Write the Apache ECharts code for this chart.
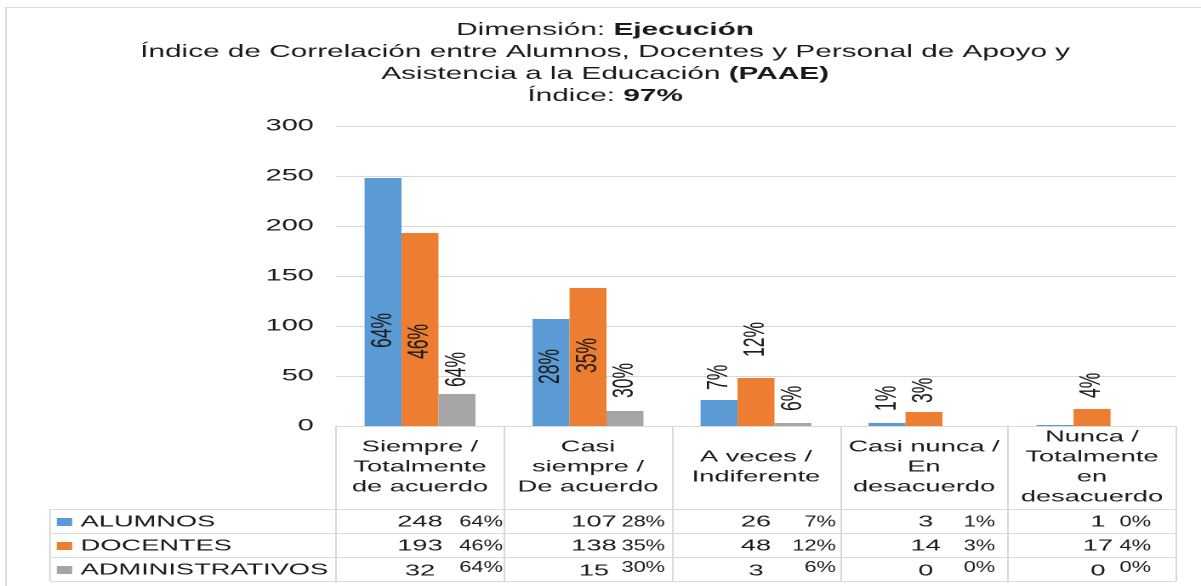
<!DOCTYPE html>
<html>
<head>
<meta charset="utf-8">
<script src="https://cdn.jsdelivr.net/npm/echarts@6/dist/echarts.min.js"></script>
<style>
  html, body { margin: 0; padding: 0; background: #fff; overflow: hidden; width: 1201px; height: 586px; }
  /* the chart is drawn narrow and widened horizontally */
  #chart { width: 706px; height: 586px; transform: scaleX(1.70113); transform-origin: 0 0; }
</style>
</head>
<body>
<div id="chart"></div>
<script>
// ---- data ----
const categories = [
  'Siempre /\nTotalmente\nde acuerdo',
  'Casi\nsiempre /\nDe acuerdo',
  'A veces /\nIndiferente',
  'Casi nunca /\nEn\ndesacuerdo',
  'Nunca /\nTotalmente\nen\ndesacuerdo'
];
const seriesNames = ['ALUMNOS', 'DOCENTES', 'ADMINISTRATIVOS'];
const alumnos = [248, 107, 26, 3, 1];
const docentes = [193, 138, 48, 14, 17];
const administrativos = [32, 15, 3, 0, 0];
const alumnosPct = ['64%', '28%', '7%', '1%', '0%'];
const docentesPct = ['46%', '35%', '12%', '3%', '4%'];
const administrativosPct = ['64%', '30%', '6%', '0%', '0%'];
const yMin = 0, yMax = 300, yStep = 50;
const titleLines = ['Dimensión: ', 'Ejecución', 'Índice de Correlación entre Alumnos, Docentes y Personal de Apoyo y',
  'Asistencia a la Educación ', '(PAAE)', 'Índice: ', '97%'];

// ---- layout ----
const W = 706;
const FONT = 'Liberation Sans, Arial, Helvetica, sans-serif';
const INK = '#1a1a1a';
const LINE = '#d9d9d9';
const COLORS = ['#5B9BD5', '#ED7D31', '#A5A5A5'];
const GRID = { left: 197.5, right: 14.7, top: 126, bottom: 160 };
const TABLE_LEFT = 29.4;
const ROW_LINES = [509, 533, 557, 581];
const ROW_Y = [522, 546, 571];
const NUM_SHIFT = [0, 3.5, 0, 1, 3.5];             // number centre, from cell centre
const PCT_RIGHT = [48.8, 45.3, 47, 41.8, 34.7];   // right edge of % text, from cell centre
const PCT_RAISE = [0, 0, -3.5];
const PCT_SQUEEZE = 0.8;                           // % text is set condensed
// bar label placement per series and category: [position, distance]
const labelPlacement = [
  [['insideBottom', 78], ['insideBottom', 42], ['top', 10], ['top', 12], ['top', 10]],
  [['insideBottom', 67], ['insideBottom', 53], ['top', 21], ['top', 9], ['top', 11]],
  [['top', 7], ['top', 13], ['top', 12], ['top', 10], ['top', 10]]
];

const values = [alumnos, docentes, administrativos];
const pcts = [alumnosPct, docentesPct, administrativosPct];

function makeSeries(k) {
  return {
    name: seriesNames[k],
    type: 'bar',
    barGap: '0%',
    barCategoryGap: '34%',
    itemStyle: { color: COLORS[k] },
    label: {
      rotate: 90, align: 'left', verticalAlign: 'middle',
      fontSize: 17.5, fontFamily: FONT, color: INK,
      formatter: p => pcts[k][p.dataIndex]
    },
    data: values[k].map((v, i) => ({
      value: v,
      label: {
        show: pcts[k][i] !== '0%',
        position: labelPlacement[k][i][0],
        distance: labelPlacement[k][i][1]
      }
    }))
  };
}

const chart = echarts.init(document.getElementById('chart'), null, { renderer: 'canvas', devicePixelRatio: 2 });
chart.setOption({
  animation: false,
  textStyle: { fontFamily: FONT },
  grid: Object.assign({ outerBoundsMode: 'none', containLabel: false }, GRID),
  legend: {
    orient: 'vertical', left: TABLE_LEFT + 4, top: 514, padding: 0,
    itemWidth: 9, itemHeight: 8, itemGap: 8, icon: 'rect',
    textStyle: { fontSize: 16, lineHeight: 16, color: INK, fontFamily: FONT },
    data: seriesNames
  },
  xAxis: {
    type: 'category',
    data: categories,
    axisLine: { show: true, lineStyle: { color: LINE, width: 1 } },
    axisTick: { show: true, interval: 0, length: 155, lineStyle: { color: LINE, width: 1 } },
    axisLabel: {
      interval: 0, margin: 41, verticalAlign: 'middle',
      fontSize: 16, lineHeight: 20, color: INK, fontFamily: FONT
    }
  },
  yAxis: {
    type: 'value', min: yMin, max: yMax, interval: yStep,
    axisLine: { show: false }, axisTick: { show: false },
    axisLabel: { margin: 13, fontSize: 17, color: INK, fontFamily: FONT },
    splitLine: { lineStyle: { color: LINE, width: 1 } }
  },
  series: [makeSeries(0), makeSeries(1), makeSeries(2)]
});

// ---- title, frame and data table ----
const plotRight = W - GRID.right;
const g = [];
g.push({
  type: 'rect', silent: true,
  shape: { x: 3.5, y: 7.5, width: 900, height: 700 },
  style: { fill: 'none', stroke: LINE, lineWidth: 1 }
});
g.push({
  type: 'text', x: 355.7, y: 19,
  style: {
    text: '{n|' + titleLines[0] + '}{b|' + titleLines[1] + '}\n' +
          '{n|' + titleLines[2] + '}\n' +
          '{n|' + titleLines[3] + '}{b|' + titleLines[4] + '}\n' +
          '{n|' + titleLines[5] + '}{b|' + titleLines[6] + '}',
    align: 'center', verticalAlign: 'top',
    fontSize: 17.5, lineHeight: 22, fontFamily: FONT, fill: INK,
    rich: {
      n: { fontSize: 17.5, lineHeight: 22, fontFamily: FONT, fill: INK },
      b: { fontSize: 17.5, lineHeight: 22, fontFamily: FONT, fill: INK, fontWeight: 'bold' }
    }
  }
});
ROW_LINES.forEach(y => g.push({
  type: 'line', silent: true,
  shape: { x1: TABLE_LEFT, y1: y + 0.5, x2: plotRight, y2: y + 0.5 },
  style: { stroke: LINE, lineWidth: 1 }
}));
g.push({
  type: 'line', silent: true,
  shape: { x1: TABLE_LEFT, y1: ROW_LINES[0], x2: TABLE_LEFT, y2: ROW_LINES[3] },
  style: { stroke: LINE, lineWidth: 1 }
});
for (let r = 0; r < 3; r++) {
  for (let i = 0; i < categories.length; i++) {
    const cx = chart.convertToPixel({ xAxisIndex: 0 }, i);
    g.push({
      type: 'text', x: cx + NUM_SHIFT[i], y: ROW_Y[r],
      style: { text: String(values[r][i]), fontSize: 16, fontFamily: FONT, fill: INK, align: 'center', verticalAlign: 'middle' }
    });
    g.push({
      type: 'text', x: cx + PCT_RIGHT[i], y: ROW_Y[r] + PCT_RAISE[r], scaleX: PCT_SQUEEZE,
      style: { text: pcts[r][i], fontSize: 16, fontFamily: FONT, fill: INK, align: 'right', verticalAlign: 'middle' }
    });
  }
}
chart.setOption({ graphic: g });
</script>
</body>
</html>
